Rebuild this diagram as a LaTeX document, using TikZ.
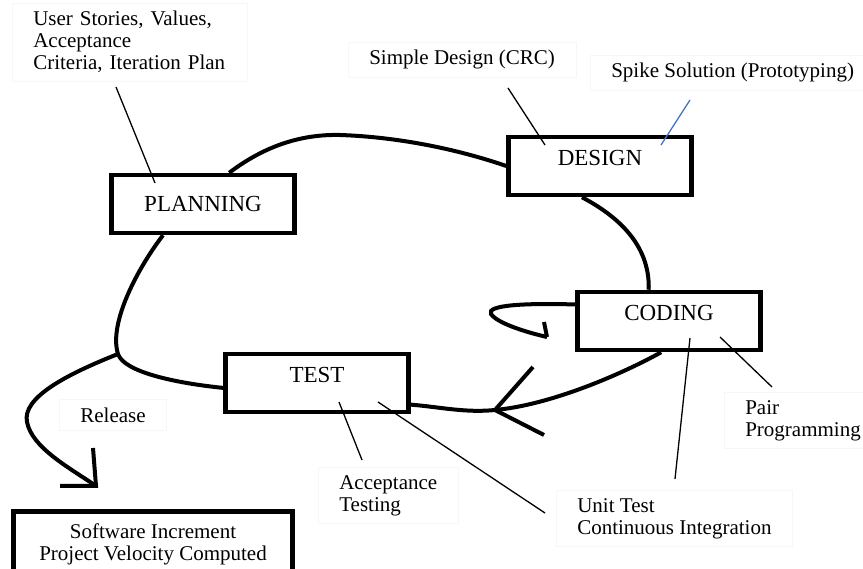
\documentclass[tikz,border=0pt]{standalone}
\usepackage{fontspec}
\setmainfont{Liberation Serif}
\usetikzlibrary{calc}
\definecolor{spikeblue}{RGB}{68,114,196}

\begin{document}
\begin{tikzpicture}[x=1pt,y=-1pt,
    phase/.style={draw,line width=4.5pt,minimum width=183pt,minimum height=58pt,inner sep=0pt,font=\fontsize{23}{22}\selectfont},
    hightext/.style={text height=12pt,text depth=12pt},
    lbl/.style={draw=black!3,line width=0.6pt,align=left,inner xsep=21pt,inner ysep=8pt,font=\fontsize{21}{22}\selectfont},
    flow/.style={line width=4pt},
    lead/.style={line width=1.3pt}]
    \useasboundingbox (0,0) rectangle (863,569);
    \clip (0,0) rectangle (863,569);

    % phases
    \node[phase] (planning) at (203,204) {PLANNING};
    \node[phase,hightext] (design) at (600,166) {DESIGN};
    \node[phase,hightext] (coding) at (669,321) {CODING};
    \node[phase,hightext] (test) at (317,383) {TEST};
    \node[phase,minimum width=279pt,minimum height=0pt,anchor=north,inner ysep=12pt,text depth=30pt,align=center,font=\fontsize{21}{22}\selectfont] (increment) at (153,509) {Software Increment\\Project Velocity Computed};

    % labels
    \node[lbl,anchor=north west,text width=193pt] (lblplan) at (12,3) {User Stories, Values,\\Acceptance\\Criteria, Iteration Plan};
    \node[lbl,anchor=north west] (lbldesign) at (348,42) {Simple Design (CRC)};
    \node[lbl,anchor=north west] (lblspike) at (590,55) {Spike Solution (Prototyping)};
    \node[lbl,anchor=north west] (lblpair) at (724,392) {Pair\\Programming};
    \node[lbl,anchor=north west] (lblunit) at (556,490) {Unit Test\\Continuous Integration};
    \node[lbl,anchor=north west] (lblaccept) at (318,467) {Acceptance\\Testing};
    \node[lbl] (lblrelease) at (113,415) {Release};

    % leaders
    \draw[lead] ($(lblplan.north west)+(104,84)$) -- ($(planning)+(-48,-21)$);
    \draw[lead] ($(lbldesign.north west)+(160,46)$) -- ($(design)+(-55,-21)$);
    \draw[lead,spikeblue] ($(lblspike.north west)+(100,45)$) -- ($(design)+(61,-21)$);
    \draw[lead] ($(lblpair.north west)+(48,-5)$) -- ($(coding)+(51,16)$);
    \draw[lead] ($(lblunit.north west)+(119,-11)$) -- ($(coding)+(21,17)$);
    \draw[lead] ($(lblunit.north west)+(-11,23)$) -- ($(test)+(61,19)$);
    \draw[lead] ($(lblaccept.north west)+(44,-7)$) -- ($(test)+(22,19)$);

    % the cycle
    \draw[flow] (planning.50) .. controls (262,148) and (298,134) .. (340,135) .. controls (400,137) and (460,150) .. (design.west);
    \draw[flow] (design.-120) .. controls (625,220) and (650,250) .. (coding.123);

    \coordinate (loopend) at (547,337);
    \draw[flow] (coding.170) .. controls (525,303) and (486,305) .. (491,314) .. controls (497,323) and (525,332) .. (loopend);
    \draw[flow] (loopend) -- ++(-3,-15);

    \coordinate (ctip) at (495,410);
    \draw[flow] (coding.-104) .. controls (620,375) and (550,405) .. (ctip) .. controls (465,413) and (440,407) .. (test.-13);
    \draw[flow] ($(ctip)+(38,-43)$) -- (ctip) -- ++(49,25);

    \coordinate (relsplit) at (118,354);
    \draw[flow] (test.183) .. controls (175,383) and (124,372) .. (relsplit) .. controls (108,322) and (140,265) .. (planning.-142);

    % release
    \coordinate (relend) at (96,486);
    \draw[flow] (relsplit) .. controls (65,375) and (22,398) .. (27,422) .. controls (32,448) and (70,468) .. (relend);
    \draw[flow] ($(relend)+(-3,-38)$) -- (relend) -- ++(-36,0);
\end{tikzpicture}
\end{document}
